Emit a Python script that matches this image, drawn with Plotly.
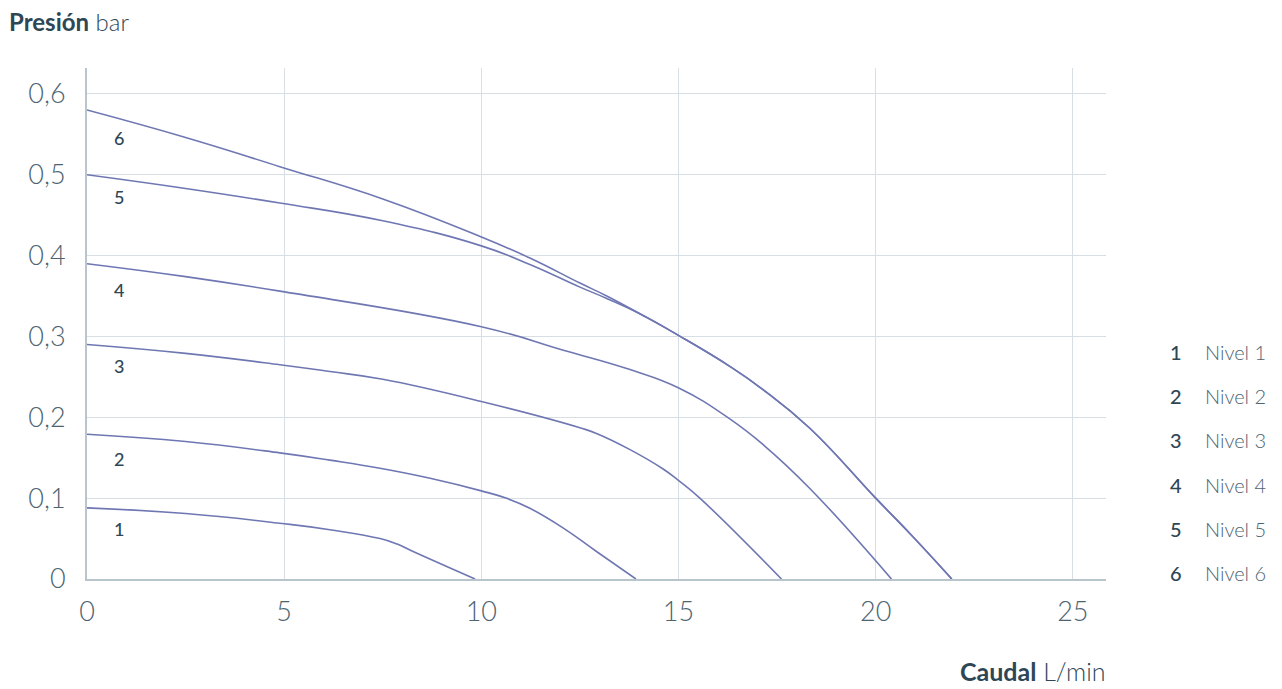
import plotly.graph_objects as go

# Data (Caudal L/min, Presión bar)
x1 = [0, 2.5, 4.89, 6.16, 7.43, 7.85, 8.27, 9.84]
y1 = [0.088, 0.081, 0.069, 0.061, 0.050, 0.0435, 0.034, 0.0]

x2 = [0, 2.5, 4.89, 6.16, 7.43, 8.70, 10.0, 10.64, 11.23, 12.08, 12.92, 13.92]
y2 = [0.179, 0.170, 0.156, 0.147, 0.137, 0.1246, 0.109, 0.0998, 0.0875, 0.063, 0.034, 0.0]

x3 = [0, 2.5, 4.89, 6.16, 7.5, 10.0, 12.5, 12.92, 13.77, 14.61, 15.02, 15.54, 17.61]
y3 = [0.290, 0.279, 0.265, 0.2566, 0.247, 0.2195, 0.187, 0.180, 0.160, 0.136, 0.121, 0.100, 0.0]

x4 = [0, 2.5, 4.89, 10.0, 12.08, 13.77, 15.02, 16.30, 17.15, 18.33, 20.4]
y4 = [0.390, 0.374, 0.356, 0.312, 0.283, 0.259, 0.236, 0.198, 0.166, 0.112, 0.0]

x5 = [0, 2.5, 4.89, 7.5, 10.0, 11.23, 12.5, 13.18, 14.02, 15.02, 16.30, 17.15, 18.33, 20.0, 20.95, 21.93]
y5 = [0.500, 0.483, 0.465, 0.443, 0.412, 0.389, 0.361, 0.347, 0.328, 0.3007, 0.263, 0.234, 0.1865, 0.100, 0.052, 0.0]

x6 = [0, 2.5, 4.89, 7.5, 10.0, 11.23, 12.5, 13.18, 14.02, 15.02, 16.30, 17.15, 18.33, 20.0, 20.95, 21.93]
y6 = [0.580, 0.546, 0.510, 0.470, 0.423, 0.397, 0.366, 0.350, 0.328, 0.3007, 0.263, 0.234, 0.1865, 0.100, 0.052, 0.0]

levels = ["1", "2", "3", "4", "5", "6"]
legend_names = ["Nivel 1", "Nivel 2", "Nivel 3", "Nivel 4", "Nivel 5", "Nivel 6"]
label_y = [0.062, 0.149, 0.264, 0.358, 0.472, 0.546]
label_x = 0.81

x_ticks = [0, 5, 10, 15, 20, 25]
y_ticks = [0, 0.1, 0.2, 0.3, 0.4, 0.5, 0.6]

series = [(x1, y1), (x2, y2), (x3, y3), (x4, y4), (x5, y5), (x6, y6)]

LINE = "#6f77b3"
DARK = "#2e4756"
TICK = "#4d6472"
GRID = "#d7dfe5"
AXIS = "#b9c5cd"
FONT = "Lato"

# page body has an 8px margin: work in reference pixels minus 8
OFF = 8
W, H = 1282 - OFF, 689 - OFF
L, T = 87 - OFF, 68 - OFF
R = W - (1106 - OFF)
B = H - (579 - OFF)
pw = W - L - R
ph = H - T - B


def px_x(p):
    return (p - OFF - L) / pw


def px_y(p):
    return 1 - (p - OFF - T) / ph


fig = go.Figure()
for (xs, ys), name in zip(series, legend_names):
    fig.add_trace(go.Scatter(
        x=xs, y=ys, mode="lines", name=name,
        line=dict(color=LINE, width=1.6, shape="spline", smoothing=1.3),
        showlegend=False, hoverinfo="x+y"))

annotations = []
for lv, ly in zip(levels, label_y):
    annotations.append(dict(x=label_x, y=ly, xref="x", yref="y", text=lv,
                            xanchor="center", yanchor="middle",
                            showarrow=False, font=dict(family=FONT, size=18, color=DARK, weight=500)))

leg_top = 352
for i, (lv, nm) in enumerate(zip(levels, legend_names)):
    py = leg_top + i * 44.2
    annotations.append(dict(x=px_x(1176), y=px_y(py), xref="paper", yref="paper", text=lv,
                            xanchor="center", yanchor="middle", showarrow=False,
                            font=dict(family=FONT, size=20, color=DARK, weight=500)))
    annotations.append(dict(x=px_x(1203), y=px_y(py), xref="paper", yref="paper", text=nm,
                            xanchor="left", yanchor="middle", showarrow=False,
                            font=dict(family=FONT, size=20, color=TICK, weight=300)))

annotations.append(dict(x=px_x(7), y=px_y(22), xref="paper", yref="paper",
                        xanchor="left", yanchor="middle", showarrow=False,
                        text="<b>Presión</b> bar",
                        font=dict(family=FONT, size=24, color=DARK, weight=300)))
annotations.append(dict(x=px_x(1108), y=px_y(671), xref="paper", yref="paper",
                        xanchor="right", yanchor="middle", showarrow=False,
                        text="<b>Caudal</b> L/min",
                        font=dict(family=FONT, size=25, color=DARK, weight=300)))

fig.update_layout(
    width=W, height=H,
    margin=dict(l=L, r=R, t=T, b=B, autoexpand=False),
    paper_bgcolor="white", plot_bgcolor="white",
    separators=",.",
    annotations=annotations,
    font=dict(family=FONT, color=TICK),
    xaxis=dict(range=[0, 25.84], tickvals=x_ticks, ticktext=[str(v) for v in x_ticks],
               showgrid=True, gridcolor=GRID, gridwidth=1.2, zeroline=False,
               showline=True, linecolor=AXIS, linewidth=2,
               ticks="", ticklabelstandoff=8,
               tickfont=dict(family=FONT, size=27, color=TICK, weight=300)),
    yaxis=dict(range=[0, 0.632], tickvals=y_ticks,
               ticktext=[("%g" % v).replace(".", ",") for v in y_ticks],
               showgrid=True, gridcolor=GRID, gridwidth=1.2, zeroline=False,
               showline=True, linecolor=AXIS, linewidth=2,
               ticks="", ticklabelstandoff=14,
               tickfont=dict(family=FONT, size=27, color=TICK, weight=300)),
)

fig.write_html("out.html")
